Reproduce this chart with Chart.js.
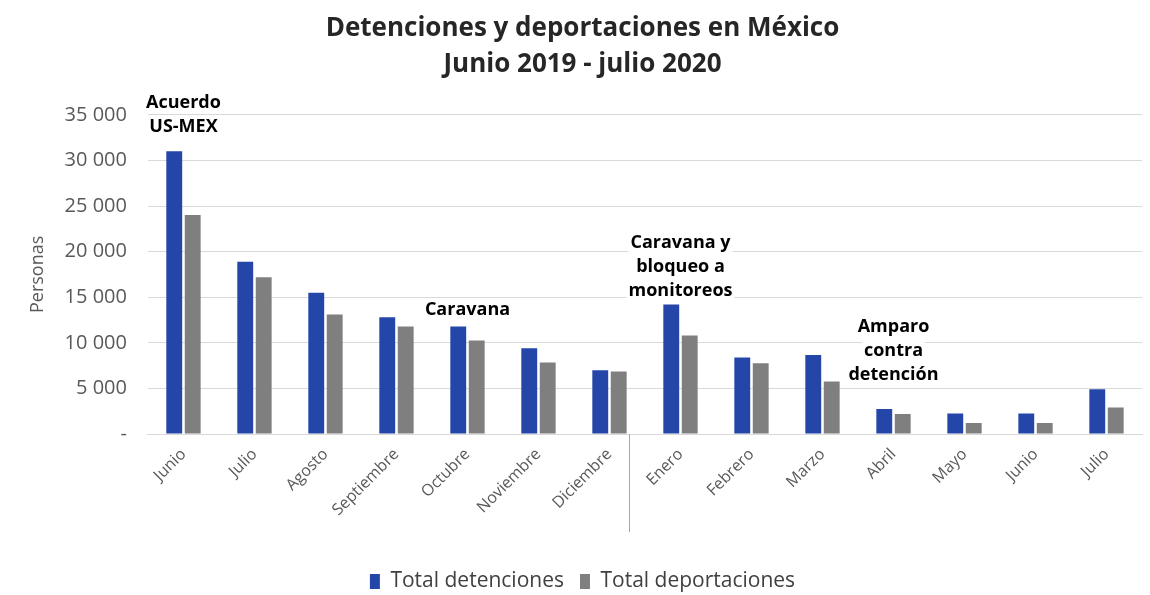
<!DOCTYPE html>
<html>
<head>
<meta charset="utf-8">
<script src="https://cdn.jsdelivr.net/npm/chart.js@4.4.0/dist/chart.umd.min.js"></script>
<style>
  html, body { margin: 0; padding: 0; background: #fff; }
  #wrap { width: 1150px; height: 595px; }
</style>
</head>
<body>
<div id="wrap"><canvas id="myChart"></canvas></div>
<script>
// datos
const meses = ['Junio', 'Julio', 'Agosto', 'Septiembre', 'Octubre', 'Noviembre', 'Diciembre',
               'Enero', 'Febrero', 'Marzo', 'Abril', 'Mayo', 'Junio', 'Julio'];
const detenciones = [31000, 18900, 15500, 12800, 11800, 9400, 7000, 14200, 8400, 8650, 2750, 2250, 2250, 4900];
const deportaciones = [24000, 17200, 13100, 11800, 10250, 7850, 6850, 10800, 7750, 5750, 2200, 1200, 1200, 2900];
const yTicks = [0, 5000, 10000, 15000, 20000, 25000, 30000, 35000];

// notas sobre el gráfico: índice del mes, valor de la primera línea, líneas
const notas = [
    { idx: 0, valor: 36300, lineas: ['Acuerdo', 'US-MEX'] },
    { idx: 4, valor: 13650, lineas: ['Caravana'] },
    { idx: 7, valor: 21000, lineas: ['Caravana y', 'bloqueo a', 'monitoreos'] },
    { idx: 10, valor: 11750, lineas: ['Amparo', 'contra', 'detención'] }
];
const corte = 6; // línea después de Diciembre

const fuente = '"Open Sans", Lato, sans-serif';

const notasPlugin = {
    id: 'notas',
    afterDraw(chart) {
        const ctx = chart.ctx;
        const x = chart.scales.x;
        const y = chart.scales.y;
        ctx.save();
        // separador de años
        const paso = x.getPixelForValue(corte + 1) - x.getPixelForValue(corte);
        const xs = Math.round(x.getPixelForValue(corte) + paso * 0.28) + 0.5;
        ctx.strokeStyle = '#a6a6a6';
        ctx.lineWidth = 1;
        ctx.beginPath();
        ctx.moveTo(xs, chart.chartArea.bottom);
        ctx.lineTo(xs, chart.chartArea.bottom + 98);
        ctx.stroke();

        ctx.font = 'bold 18px ' + fuente;
        ctx.textAlign = 'center';
        ctx.textBaseline = 'middle';
        notas.forEach(n => {
            const cx = x.getPixelForValue(n.idx);
            const y0 = y.getPixelForValue(n.valor);
            n.lineas.forEach((t, i) => {
                const ly = y0 + i * 24;
                const w = ctx.measureText(t).width;
                ctx.fillStyle = '#fff';
                ctx.fillRect(cx - w / 2 - 2, ly - 10, w + 4, 20);
                ctx.fillStyle = '#000';
                ctx.fillText(t, cx, ly);
            });
        });
        ctx.restore();
    }
};

const ctx = document.getElementById('myChart').getContext('2d');
const chart = new Chart(ctx, {
    type: 'bar',
    data: {
        labels: meses,
        datasets: [
            { label: 'Total detenciones', data: detenciones, backgroundColor: '#2446a8',
              categoryPercentage: 0.52, barPercentage: 0.86 },
            { label: 'Total deportaciones', data: deportaciones, backgroundColor: '#7f7f7f',
              categoryPercentage: 0.52, barPercentage: 0.86 }
        ]
    },
    options: {
        responsive: true,
        maintainAspectRatio: false,
        animation: false,
        layout: { padding: { left: 23, right: 8, top: 0, bottom: -7 } },
        plugins: {
            title: {
                display: true,
                text: ['Detenciones y deportaciones en México', 'Junio 2019 - julio 2020'],
                font: { family: fuente, size: 26, weight: 'bold', lineHeight: 1.4 },
                color: '#262626',
                padding: { top: 10, bottom: 32 }
            },
            legend: {
                position: 'bottom',
                labels: {
                    font: { family: fuente, size: 21 },
                    color: '#404040',
                    boxWidth: 10,
                    boxHeight: 15,
                    padding: 16
                }
            },
            tooltip: { enabled: false }
        },
        scales: {
            x: {
                afterFit: s => { s.height = 121; },
                grid: { display: false },
                border: { display: true, color: '#d9d9d9' },
                ticks: {
                    font: { family: fuente, size: 16 },
                    color: '#595959',
                    maxRotation: 45,
                    minRotation: 45,
                    autoSkip: false
                }
            },
            y: {
                min: 0,
                max: 35000,
                afterBuildTicks: axis => { axis.ticks = yTicks.map(v => ({ value: v })); },
                grid: { color: '#d9d9d9', drawTicks: false },
                border: { display: false },
                title: {
                    display: true,
                    text: 'Personas',
                    font: { family: fuente, size: 18 },
                    color: '#595959',
                    padding: { top: 4, bottom: -5 }
                },
                ticks: {
                    font: { family: fuente, size: 20 },
                    color: '#595959',
                    padding: 21,
                    callback: v => v === 0 ? '-' : v.toLocaleString('en-US').replace(',', ' ')
                }
            }
        }
    },
    plugins: [notasPlugin]
});
</script>
</body>
</html>
